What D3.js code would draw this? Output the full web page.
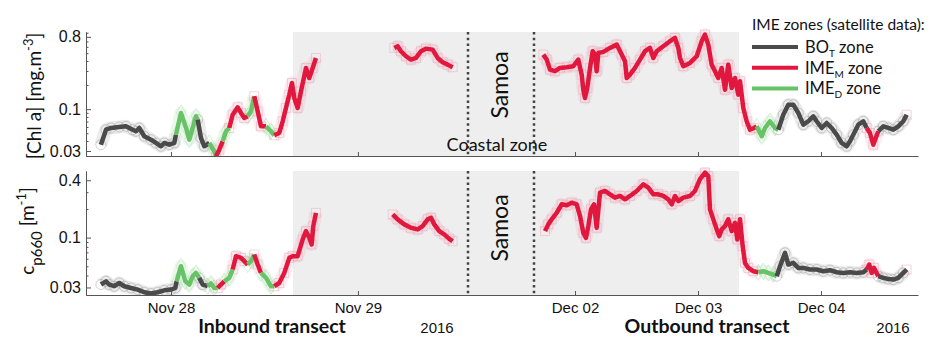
<!DOCTYPE html>
<html>
<head>
<meta charset="utf-8">
<script src="https://cdn.jsdelivr.net/npm/d3@7"></script>
<style>
  body { margin: 0; background: #fff; }
  text { font-family: Lato, "Open Sans", sans-serif; fill: #111; }
  .axis path, .axis line { stroke: #555; }
  .axis text { font-family: "Liberation Sans", Arial, sans-serif; fill: #111; }
</style>
</head>
<body>
<svg id="chart" width="952" height="338"></svg>
<script>

// hours since 2016-11-28 00:00, value, zone (B = BOT, M = IME_M, D = IME_D)
var chlTime = [
  -9.0, -8.34, -7.70, -6.64, -5.78, -4.92, -4.49, -4.07, -3.43, -2.57, -1.93, -1.28, -0.86, -0.22, 0.42,
  0.64, 1.28, 1.93, 2.35, 2.79, 3.21, 3.43, 3.85, 4.27, 4.92, 5.56, 5.78, 6.20, 6.64, 7.06,
  7.48, 7.92, 8.56, 8.99, 9.41, 9.85, 10.27, 10.69, 11.13, 11.55, 12.20, 12.84,
  13.26, 13.90, 14.34, 14.76, 15.19, 15.53, 15.83, 16.26, 16.69, 17.33, 17.75, 18.19, 18.61,
  28.67, 29.10, 29.52, 30.17, 30.81, 31.45, 32.09, 32.73, 33.59, 34.23, 34.87, 35.52, 36.16,
  89.81, 90.48, 91.12, 92.10, 93.07, 94.38, 95.67, 96.64, 97.31, 97.62, 97.95, 98.40, 98.93, 99.45,
  99.90, 100.23, 100.55, 101.52, 102.83, 104.14, 105.11, 105.76, 106.09, 106.73, 107.71, 108.68,
  109.66, 110.63, 111.28, 111.94, 113.23, 114.54, 115.51, 116.16, 116.49, 117.13, 118.44, 119.75,
  120.72, 121.37, 122.01, 122.67, 123.32, 123.96, 124.62, 125.27, 125.91, 126.58, 127.22, 127.86,
  128.20, 128.84, 129.50, 130.15, 130.93,
  131.45, 132.43, 133.07, 134.05, 135.02,
  135.67, 136.64, 137.62, 138.60, 139.57, 140.55, 141.52, 142.50, 143.16, 144.14, 145.11, 146.09,
  147.06, 148.04, 149.01, 149.66, 150.30, 151.28, 152.25,
  152.92, 153.56, 154.20,
  155.18, 156.16, 157.13, 158.11, 159.08, 160.06, 160.72
];
var chlValue = [
  0.036, 0.0554, 0.0582, 0.0599, 0.0611, 0.0554, 0.053, 0.0582, 0.0459, 0.0416, 0.0378, 0.0344, 0.0378, 0.036, 0.0378,
  0.048, 0.0896, 0.0582, 0.0416, 0.0582, 0.0815, 0.0739, 0.0437, 0.0344, 0.0378, 0.0298, 0.0258, 0.0312, 0.0397, 0.053,
  0.0582, 0.0853, 0.1056, 0.0896, 0.0776, 0.0815, 0.0941, 0.145, 0.0941, 0.0611, 0.0611, 0.053,
  0.0472, 0.0504, 0.0706, 0.1035, 0.152, 0.2126, 0.138, 0.1035, 0.1675, 0.327, 0.245, 0.327, 0.436,
  0.582, 0.611, 0.529, 0.458, 0.416, 0.436, 0.529, 0.570, 0.554, 0.436, 0.386, 0.36, 0.334,
  0.480, 0.416, 0.312, 0.298, 0.327, 0.334, 0.344, 0.416, 0.270, 0.175, 0.138, 0.184, 0.327, 0.529,
  0.480, 0.298, 0.504, 0.519, 0.582, 0.640, 0.480, 0.397, 0.245, 0.270, 0.327, 0.416,
  0.529, 0.582, 0.436, 0.529, 0.611, 0.706, 0.776, 0.582, 0.436, 0.344, 0.378, 0.458,
  0.706, 0.853, 0.640, 0.360, 0.298, 0.245, 0.327, 0.175, 0.360, 0.184, 0.245, 0.152,
  0.223, 0.1035, 0.0706, 0.0554, 0.0582,
  0.0611, 0.0459, 0.0582, 0.0706, 0.0582,
  0.0554, 0.0853, 0.1138, 0.1138, 0.0896, 0.064, 0.0706, 0.0815, 0.0706, 0.0582, 0.0672, 0.0582,
  0.048, 0.0378, 0.0344, 0.0397, 0.048, 0.064, 0.0706,
  0.0582, 0.0504, 0.036,
  0.053, 0.0611, 0.0582, 0.0554, 0.0611, 0.0706, 0.0853
];
var chlZone = [
  "B","B","B","B","B","B","B","B","B","B","B","B","B","B","B",
  "D","D","D","D","D","D","B","B","B","D","D","M","M","D","D",
  "M","M","M","M","M","D","D","M","M","M","D","D",
  "M","M","M","M","M","M","M","M","M","M","M","M","M",
  "M","M","M","M","M","M","M","M","M","M","M","M","M",
  "M","M","M","M","M","M","M","M","M","M","M","M","M","M",
  "M","M","M","M","M","M","M","M","M","M","M","M",
  "M","M","M","M","M","M","M","M","M","M","M","M",
  "M","M","M","M","M","M","M","M","M","M","M","M",
  "M","M","M","M","M",
  "D","D","D","D","D",
  "B","B","B","B","B","B","B","B","B","B","B","B",
  "B","B","B","B","B","B","B",
  "M","M","M",
  "B","B","B","B","B","B","M"
];

var cpTime = [
  -8.99, -8.34, -7.92, -7.28, -6.64, -5.99, -5.13, -4.27, -3.43, -2.57, -1.71, -0.86, 0, 0.55,
  0.73, 1.28, 1.84, 2.35, 2.79, 3.21, 3.63, 4.07, 4.71, 5.13, 5.56, 5.99, 6.42, 6.84, 7.48,
  7.92, 8.34, 8.99, 9.41, 9.85, 10.27, 10.69, 11.13, 11.55, 12.20, 12.84,
  13.26, 13.90, 14.54, 15.19, 15.62, 16.26, 16.91, 17.33, 17.75, 18.06, 18.27, 18.61,
  28.46, 29.10, 29.95, 30.81, 31.67, 32.31, 32.95, 33.38, 33.80, 34.44, 35.08, 35.72, 36.16,
  90.15, 90.79, 91.45, 92.43, 93.40, 94.38, 95.36, 96.33, 96.98, 97.62, 98.15, 98.60, 99.12, 99.71,
  100.23, 100.88, 101.85, 102.83, 103.80, 104.78, 105.76, 106.73, 108.04, 109.33, 110.30, 111.28,
  112.25, 113.23, 114.20, 114.87, 115.51, 116.16, 117.13, 118.44, 119.41, 120.39, 121.37, 122.01,
  122.34, 122.99, 123.65, 124.16, 124.62, 125.27, 125.91, 126.58, 127.22, 127.67, 128.20, 128.72,
  129.17, 129.82, 130.79,
  131.77, 132.75, 133.72, 134.69,
  135.36, 136.00, 136.98, 137.62, 138.60, 139.57, 140.55, 141.85, 143.16, 144.45, 145.76, 147.06,
  148.35, 149.66, 150.97, 152.25,
  152.92, 153.42, 153.89, 154.34,
  155.18, 156.16, 157.13, 158.11, 159.08, 160.06, 160.72
];
var cpValue = [
  0.0322, 0.0348, 0.0322, 0.0309, 0.0334, 0.0309, 0.0296, 0.0285, 0.0267, 0.0259, 0.0267, 0.028, 0.0285, 0.0296,
  0.0348, 0.0501, 0.0348, 0.0322, 0.0394, 0.0426, 0.0378, 0.0322, 0.0309, 0.033, 0.0296, 0.0296, 0.0322, 0.0348, 0.0378,
  0.0463, 0.0638, 0.0613, 0.0566, 0.0522, 0.0566, 0.0665, 0.0522, 0.0426, 0.0378, 0.0309,
  0.0309, 0.0334, 0.0426, 0.0613, 0.0638, 0.0638, 0.0957, 0.117, 0.0995, 0.0848, 0.132, 0.182,
  0.175, 0.1555, 0.1377, 0.1268, 0.122, 0.132, 0.1555, 0.1614, 0.1377, 0.117, 0.108, 0.0971, 0.0918,
  0.117, 0.1377, 0.1555, 0.1824, 0.2236, 0.2183, 0.2323, 0.2236, 0.1684, 0.1123, 0.0995, 0.1321, 0.198, 0.2236,
  0.1268, 0.296, 0.3087, 0.285, 0.2624, 0.2735, 0.2523, 0.2735, 0.3087, 0.363, 0.334, 0.285,
  0.285, 0.2735, 0.2523, 0.2236, 0.2735, 0.242, 0.2624, 0.2735, 0.3087, 0.41, 0.481, 0.4436,
  0.198, 0.1555, 0.122, 0.1037, 0.122, 0.1321, 0.1555, 0.117, 0.1432, 0.0957, 0.1555, 0.0814,
  0.0543, 0.0481, 0.0444,
  0.0433, 0.0444, 0.0426, 0.041,
  0.0394, 0.0501, 0.0692, 0.0522, 0.0543, 0.0481, 0.0481, 0.0463, 0.0463, 0.0444, 0.0455, 0.0433,
  0.0426, 0.0433, 0.0426, 0.0433,
  0.0463, 0.0522, 0.0426, 0.0481,
  0.0394, 0.0378, 0.0368, 0.0363, 0.0378, 0.0426, 0.0463
];
var cpZone = [
  "B","B","B","B","B","B","B","B","B","B","B","B","B","B",
  "D","D","D","D","D","D","B","B","D","D","D","M","M","D","D",
  "M","M","M","M","D","D","M","M","D","D","D",
  "M","M","M","M","M","M","M","M","M","M","M","M",
  "M","M","M","M","M","M","M","M","M","M","M","M","M",
  "M","M","M","M","M","M","M","M","M","M","M","M","M","M",
  "M","M","M","M","M","M","M","M","M","M","M","M",
  "M","M","M","M","M","M","M","M","M","M","M","M",
  "M","M","M","M","M","M","M","M","M","M","M","M",
  "M","M","M",
  "D","D","D","D",
  "B","B","B","B","B","B","B","B","B","B","B","B",
  "B","B","B","B",
  "M","M","M","M",
  "B","B","B","B","B","B","M"
];

// cruise events (hours since Nov 28)
var startHour = -10.91, samoaArrive = 38.13, samoaDepart = 88.0, endHour = 162.93;
var coastalStart = 15.66, coastalEnd = 128.0;
var tickHours = [0, 24, 96, 120, 144];
var legendZones = ["B", "M", "D"];
var legendLabels = [["BO", "T"], ["IME", "M"], ["IME", "D"]];

var hourDate = function(hr) { return new Date(Date.UTC(2016, 10, 28) + hr * 3600e3); };

var lineColor = {B: "#4a4a4a", M: "#e2173e", D: "#68c368"};
var haloColor = {B: "#9a9a9a", M: "#f0a0b4", D: "#a6dca6"};
var symbolType = {B: d3.symbolCircle, M: d3.symbolSquare, D: d3.symbolDiamond};

var svg = d3.select("#chart");

// broken time axis: inbound and outbound parts have their own scales
var x = d3.scaleUtc()
    .domain([hourDate(startHour), hourDate(samoaArrive), hourDate(samoaDepart), hourDate(endHour)])
    .range([86, 468, 534, 918]);

var panels = [
  {time: chlTime, value: chlValue, zone: chlZone, top: 32, bottom: 156, domain: [0.026, 0.92], major: [0.03, 0.1, 0.8], labels: false, samoaY: 85},
  {time: cpTime, value: cpValue, zone: cpZone, top: 171, bottom: 295, domain: [0.025, 0.5], major: [0.03, 0.1, 0.4], labels: true, samoaY: 228}
];

function buildRuns(t, v, z) {
  var runs = [], cur = null;
  for (var i = 0; i < t.length; i++) {
    var p = {t: t[i], v: v[i], z: z[i]};
    var gap = i > 0 && t[i] - t[i - 1] > 5;
    if (!cur || gap || z[i] !== cur.zone) {
      if (cur && !gap) cur.pts.push(p);
      cur = {zone: z[i], pts: []};
      runs.push(cur);
    }
    cur.pts.push(p);
  }
  return runs;
}

panels.forEach(function(pn, k) {
  var y = d3.scaleLog().domain(pn.domain).range([pn.bottom, pn.top]);
  var g = svg.append("g");

  // coastal zone shading
  g.append("rect")
    .attr("x", x(hourDate(coastalStart)))
    .attr("y", pn.top)
    .attr("width", x(hourDate(coastalEnd)) - x(hourDate(coastalStart)))
    .attr("height", pn.bottom - pn.top)
    .attr("fill", "#eeeeee");

  var clipId = "clip" + k;
  svg.append("clipPath").attr("id", clipId).append("rect")
    .attr("x", 86).attr("y", pn.top - 4).attr("width", 840).attr("height", pn.bottom - pn.top + 4);

  var line = d3.line()
    .x(function(d) { return x(hourDate(d.t)); })
    .y(function(d) { return y(d.v); });

  var runs = buildRuns(pn.time, pn.value, pn.zone);
  var plot = g.append("g").attr("clip-path", "url(#" + clipId + ")");

  // soft cloud of the raw samples
  plot.selectAll(".halo").data(runs).enter().append("path")
    .attr("d", function(d) { return line(d.pts); })
    .attr("fill", "none")
    .attr("stroke", function(d) { return haloColor[d.zone]; })
    .attr("stroke-opacity", 0.2)
    .attr("stroke-width", 13)
    .attr("stroke-linejoin", "round");

  var pts = pn.time.map(function(t, i) { return {t: t, v: pn.value[i], z: pn.zone[i]}; });
  plot.selectAll(".mk").data(pts).enter().append("path")
    .attr("transform", function(d) { return "translate(" + x(hourDate(d.t)) + "," + y(d.v) + ")"; })
    .attr("d", function(d) { return d3.symbol().type(symbolType[d.z]).size(d.z === "D" ? 75 : 80)(); })
    .attr("fill", "none")
    .attr("stroke", function(d) { return haloColor[d.z]; })
    .attr("stroke-opacity", 0.45);

  plot.selectAll(".run").data(runs).enter().append("path")
    .attr("d", function(d) { return line(d.pts); })
    .attr("fill", "none")
    .attr("stroke", function(d) { return lineColor[d.zone]; })
    .attr("stroke-width", 4.5)
    .attr("stroke-linejoin", "round");

  // Samoa dotted lines
  [samoaArrive, samoaDepart].forEach(function(hr) {
    g.append("line")
      .attr("x1", x(hourDate(hr))).attr("x2", x(hourDate(hr)))
      .attr("y1", pn.top).attr("y2", pn.bottom)
      .attr("stroke", "#444").attr("stroke-width", 2.5)
      .attr("stroke-dasharray", "2.5,3.2");
  });

  g.append("text")
    .attr("transform", "translate(508," + pn.samoaY + ") rotate(-90)")
    .attr("text-anchor", "middle")
    .style("font-size", "23px")
    .text("Samoa");

  // axes
  var minor = [0.04, 0.05, 0.06, 0.07, 0.08, 0.09, 0.2, 0.3, 0.4, 0.5, 0.6, 0.7, 0.8, 0.9]
    .filter(function(v) { return v < pn.domain[1] && pn.major.indexOf(v) < 0; });

  g.append("g")
    .attr("class", "axis")
    .attr("transform", "translate(86,0)")
    .call(d3.axisLeft(y).tickValues(minor).tickSizeInner(-2.5).tickSizeOuter(0).tickFormat(""));
  g.append("g")
    .attr("class", "axis")
    .attr("transform", "translate(86,0)")
    .call(d3.axisLeft(y).tickValues(pn.major).tickSizeInner(-5).tickSizeOuter(0).tickPadding(5)
      .tickFormat(function(d) { return d; }))
    .selectAll("text").style("font-size", "16px");

  var xa = g.append("g")
    .attr("class", "axis")
    .attr("transform", "translate(0," + pn.bottom + ")")
    .call(d3.axisBottom(x).tickValues(tickHours.map(hourDate)).tickSizeInner(-4).tickSizeOuter(0).tickPadding(7)
      .tickFormat(pn.labels ? d3.utcFormat("%b %d") : ""));
  xa.selectAll("text").style("font-size", "15px");
});

// Coastal zone label
svg.append("text")
  .attr("x", 497).attr("y", 151)
  .attr("text-anchor", "middle")
  .style("font-size", "18px")
  .text("Coastal zone");

// y labels
var yl1 = svg.append("text")
  .attr("transform", "translate(41,96) rotate(-90)")
  .attr("text-anchor", "middle")
  .style("font-size", "19px");
yl1.append("tspan").text("[Chl a] [mg.m");
yl1.append("tspan").attr("dy", -8).style("font-size", "13px").text("-3");
yl1.append("tspan").attr("dy", 8).text("]");

var yl2 = svg.append("text")
  .attr("transform", "translate(34,231) rotate(-90)")
  .attr("text-anchor", "middle")
  .style("font-size", "19px");
yl2.append("tspan").text("c");
yl2.append("tspan").attr("dy", 8).style("font-size", "15px").text("p660");
yl2.append("tspan").attr("dy", -8).text(" [m");
yl2.append("tspan").attr("dy", -8).style("font-size", "13px").text("-1");
yl2.append("tspan").attr("dy", 8).text("]");

// bottom labels
svg.append("text").attr("x", 272).attr("y", 333).attr("text-anchor", "middle")
  .style("font-size", "19.5px").style("font-weight", "bold").text("Inbound transect");
svg.append("text").attr("x", 707).attr("y", 333).attr("text-anchor", "middle")
  .style("font-size", "19.5px").style("font-weight", "bold").text("Outbound transect");
[437, 893].forEach(function(cx) {
  svg.append("text").attr("x", cx).attr("y", 333).attr("text-anchor", "middle")
    .style("font-family", "'Liberation Sans', Arial, sans-serif").style("font-size", "15px").text("2016");
});

// legend
var lg = svg.append("g").attr("transform", "translate(752,0)");
lg.append("text").attr("x", 0).attr("y", 30).style("font-size", "15.5px").text("IME zones (satellite data):");
legendZones.forEach(function(z, i) {
  var yy = 47 + i * 20.7;
  lg.append("line").attr("x1", 0).attr("x2", 46).attr("y1", yy).attr("y2", yy)
    .attr("stroke", lineColor[z]).attr("stroke-width", 4);
  var t = lg.append("text").attr("x", 53).attr("y", yy + 6).style("font-size", "16.5px");
  t.append("tspan").text(legendLabels[i][0]);
  t.append("tspan").attr("dy", 4).style("font-size", "10px").text(legendLabels[i][1]);
  t.append("tspan").attr("dy", -4).text(" zone");
});

</script>
</body>
</html>
